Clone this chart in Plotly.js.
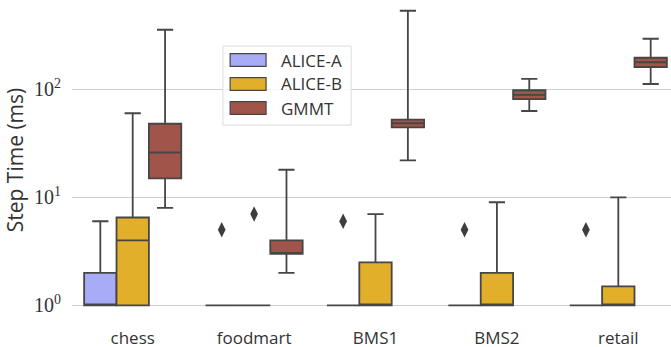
<!DOCTYPE html>
<html>
<head>
<meta charset="utf-8">
<script src="https://cdn.plot.ly/plotly-3.0.1.min.js"></script>
<style>html,body{margin:0;padding:0;background:#fff;}#chart{width:671px;height:347px;}</style>
</head>
<body>
<div id="chart"></div>
<script>
const categories = ['chess', 'foodmart', 'BMS1', 'BMS2', 'retail'];
const seriesNames = ['ALICE-A', 'ALICE-B', 'GMMT'];

// ALICE-A box statistics
const aliceA_q1 = [1, 1, 1, 1, 1];
const aliceA_median = [1, 1, 1, 1, 1];
const aliceA_q3 = [2, 1, 1, 1, 1];
const aliceA_low = [1, 1, 1, 1, 1];
const aliceA_high = [6, 1, 1, 1, 1];
const aliceA_outlierCats = ['foodmart', 'BMS1', 'BMS2', 'retail'];
const aliceA_outlierVals = [5, 6, 5, 5];

// ALICE-B box statistics
const aliceB_q1 = [1, 1, 1, 1, 1];
const aliceB_median = [4, 1, 1, 1, 1];
const aliceB_q3 = [6.5, 1, 2.5, 2, 1.5];
const aliceB_low = [1, 1, 1, 1, 1];
const aliceB_high = [60, 1, 7, 9, 10];
const aliceB_outlierCats = ['foodmart'];
const aliceB_outlierVals = [7];

// GMMT box statistics
const gmmt_q1 = [15, 3, 44.5, 81, 161];
const gmmt_median = [26, 3, 48.5, 89, 178];
const gmmt_q3 = [48, 4, 52.5, 98, 196];
const gmmt_low = [8, 2, 22, 63, 112];
const gmmt_high = [356, 18, 534, 125, 294];
const gmmt_outlierCats = [];
const gmmt_outlierVals = [];

const tickVals = [1, 10, 100];
const tickText = ['10<sup>0</sup>', '10<sup>1</sup>', '10<sup>2</sup>'];

const colors = ['#a8abf5', '#e1af2a', '#a1554a'];
const edge = '#464646';
const groupWidth = 0.8;
const boxW = groupWidth / 3;

const groups = [
  {q1: aliceA_q1, med: aliceA_median, q3: aliceA_q3, lo: aliceA_low, hi: aliceA_high, oc: aliceA_outlierCats, ov: aliceA_outlierVals},
  {q1: aliceB_q1, med: aliceB_median, q3: aliceB_q3, lo: aliceB_low, hi: aliceB_high, oc: aliceB_outlierCats, ov: aliceB_outlierVals},
  {q1: gmmt_q1, med: gmmt_median, q3: gmmt_q3, lo: gmmt_low, hi: gmmt_high, oc: gmmt_outlierCats, ov: gmmt_outlierVals}
];

const traces = [];
groups.forEach((g, i) => {
  const off = -groupWidth / 2 + boxW * (i + 0.5);
  traces.push({
    type: 'box',
    name: seriesNames[i],
    x: categories.map((c, k) => k + off),
    q1: g.q1, median: g.med, q3: g.q3,
    lowerfence: g.lo, upperfence: g.hi,
    width: boxW,
    whiskerwidth: 0.5,
    fillcolor: colors[i],
    line: {color: edge, width: 1.8},
    marker: {color: edge},
    showlegend: false,
    hoverinfo: 'skip'
  });
  if (g.oc.length) {
    traces.push({
      type: 'scatter',
      mode: 'markers',
      x: g.oc.map(c => categories.indexOf(c) + off),
      y: g.ov,
      marker: {symbol: 'diamond-tall', size: 11, color: '#3d3d3d', line: {width: 0}},
      showlegend: false,
      hoverinfo: 'skip'
    });
  }
});

// manual legend (frame, swatches, labels)
const shapes = [{
  type: 'rect', xref: 'paper', yref: 'paper',
  x0: 0.252, x1: 0.466, y0: 0.609, y1: 0.856,
  line: {color: '#dcdcdc', width: 1}, fillcolor: 'rgba(255,255,255,0.85)', layer: 'above'
}];
const annotations = [];
seriesNames.forEach((n, i) => {
  const yc = 0.8125 - i * 0.075;
  shapes.push({
    type: 'rect', xref: 'paper', yref: 'paper',
    x0: 0.264, x1: 0.324, y0: yc - 0.02, y1: yc + 0.02,
    line: {color: edge, width: 1.2}, fillcolor: colors[i], layer: 'above'
  });
  annotations.push({
    xref: 'paper', yref: 'paper', x: 0.345, y: yc, xanchor: 'left', yanchor: 'middle',
    text: n, showarrow: false, font: {family: 'Open Sans', size: 17, color: '#333333'}
  });
});

const layout = {
  width: 671, height: 347,
  margin: {l: 72, r: 0, t: 0, b: 27},
  paper_bgcolor: '#ffffff', plot_bgcolor: '#ffffff',
  boxmode: 'overlay',
  showlegend: false,
  xaxis: {
    range: [-0.5, 4.434],
    tickvals: categories.map((c, k) => k),
    ticktext: categories,
    showgrid: false, zeroline: false, showline: false,
    ticks: 'outside', ticklen: 3, tickcolor: 'rgba(0,0,0,0)',
    tickfont: {family: 'Open Sans', size: 17, color: '#333333'}
  },
  yaxis: {
    type: 'log',
    range: [-0.136, 2.827],
    tickvals: tickVals, ticktext: tickText,
    showgrid: true, gridcolor: '#cfcfcf', gridwidth: 1,
    zeroline: false, showline: false,
    ticks: 'outside', ticklen: 6, tickcolor: 'rgba(0,0,0,0)',
    tickfont: {family: 'Liberation Serif', size: 20, color: '#333333'},
    title: {text: 'Step Time (ms)', font: {family: 'Open Sans', size: 21, color: '#333333'}, standoff: 4}
  },
  shapes: shapes,
  annotations: annotations
};

Plotly.newPlot('chart', traces, layout, {staticPlot: true, displayModeBar: false});
</script>
</body>
</html>
